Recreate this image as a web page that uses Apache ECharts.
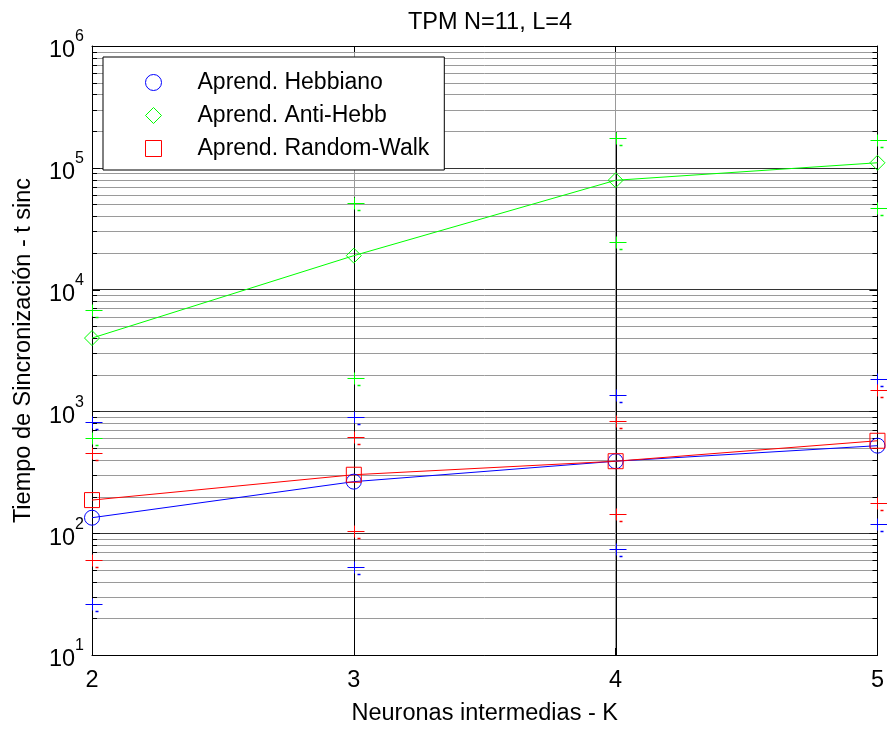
<!DOCTYPE html>
<html><head><meta charset="utf-8">
<script src="https://cdn.jsdelivr.net/npm/echarts@6/dist/echarts.min.js"></script>
<style>html,body{margin:0;padding:0;background:#fff}#c{width:887px;height:731px}</style>
</head><body><div id="c"></div>
<script>
// ---- data ----
const kValues = [2, 3, 4, 5];
const xTickLabels = ['2', '3', '4', '5'];
const yDecades = [10, 100, 1000, 10000, 100000, 1000000];
const minorMultipliers = [2, 3, 4, 5, 6, 7, 8, 9];
const seriesNames = ['Aprend. Hebbiano', 'Aprend. Anti-Hebb', 'Aprend. Random-Walk'];
const hebbMean = [134, 265, 390, 523];
const hebbLow  = [26, 53, 74, 120];
const hebbHigh = [816, 895, 1372, 1845];
const antiMean = [4000, 19000, 79000, 110000];
const antiLow  = [604, 1870, 24800, 47000];
const antiHigh = [6750, 51500, 175000, 169000];
const rwMean = [187, 302, 390, 574];
const rwLow  = [60, 105, 145, 178];
const rwHigh = [457, 620, 840, 1486];
const titleText = 'TPM N=11, L=4';
const xName = 'Neuronas intermedias - K';
const yName = 'Tiempo de Sincronización - t sinc';

// ---- styling ----
const FONT = '"Liberation Sans", Arial, Helvetica, sans-serif';
const FS = 23.5;
const colors = ['#0000ff', '#00ff00', '#ff0000'];
const symbols = ['circle', 'diamond', 'rect'];

const means = [hebbMean, antiMean, rwMean];
const lows = [hebbLow, antiLow, rwLow];
const highs = [hebbHigh, antiHigh, rwHigh];

// grid line / tick values
const tickData = [];
yDecades.forEach((d, i) => {
  tickData.push([kValues[0], d, 1]);
  if (i < yDecades.length - 1) minorMultipliers.forEach(m => tickData.push([kValues[0], d * m, 0]));
});

const errData = [];
for (let s = 0; s < 3; s++) {
  kValues.forEach((k, i) => errData.push([k, lows[s][i], highs[s][i], s]));
}
const stemData = kValues.map((k, i) => [k, Math.max(hebbHigh[i], antiHigh[i], rwHigh[i])]);

const chart = echarts.init(document.getElementById('c'), null, {renderer: 'canvas'});

const lineSeries = [0, 1, 2].map(s => ({
  type: 'line',
  name: seriesNames[s],
  data: kValues.map((k, i) => [k, means[s][i]]),
  symbol: symbols[s],
  symbolSize: 15,
  showAllSymbol: true,
  lineStyle: {color: colors[s], width: 1},
  itemStyle: {color: 'rgba(0,0,0,0)', borderColor: colors[s], borderWidth: 1},
  emphasis: {disabled: true},
  z: 6,
  animation: false
}));

const option = {
  backgroundColor: '#fff',
  animation: false,
  title: {
    text: titleText, left: 485, textAlign: 'center', top: 6,
    textStyle: {fontFamily: FONT, fontSize: FS, fontWeight: 'normal', color: '#000'}
  },
  grid: {left: 92, right: 8, top: 46, bottom: 64, containLabel: false},
  legend: {
    orient: 'vertical', left: 103, top: 57,
    itemWidth: 16, itemHeight: 16, itemGap: 10,
    padding: [14, 15, 10, 42],
    borderColor: '#000', borderWidth: 1, backgroundColor: '#fff',
    selectedMode: false,
    textStyle: {fontFamily: FONT, fontSize: 23, color: '#000', padding: [0, 0, 0, 31]},
    data: [0, 1, 2].map(s => ({
      name: seriesNames[s], icon: symbols[s],
      itemStyle: {color: 'rgba(0,0,0,0)', borderColor: colors[s], borderWidth: 1}
    }))
  },
  xAxis: [{
    type: 'value', min: 2, max: 5, interval: 1, position: 'bottom',
    axisLine: {show: true, lineStyle: {color: '#000', width: 1}},
    axisTick: {show: true, inside: true, length: 7, lineStyle: {color: '#000'}},
    axisLabel: {fontFamily: FONT, fontSize: FS, color: '#000', margin: 14,
      formatter: v => xTickLabels[kValues.indexOf(v)] || ''},
    splitLine: {show: true, lineStyle: {color: '#9a9a9a', width: 1}},
    name: xName, nameLocation: 'middle', nameGap: 47,
    nameTextStyle: {fontFamily: FONT, fontSize: FS, color: '#000'}
  }, {
    type: 'value', min: 2, max: 5, interval: 1, position: 'top',
    axisLine: {show: true, lineStyle: {color: '#000', width: 1}},
    axisTick: {show: true, inside: true, length: 7, lineStyle: {color: '#000'}},
    axisLabel: {show: false}, splitLine: {show: false}
  }],
  yAxis: [{
    type: 'log', logBase: 10, min: 10, max: 1000000, position: 'left',
    axisLine: {show: true, lineStyle: {color: '#000', width: 1}},
    axisTick: {show: false},
    axisLabel: {
      margin: 8,
      formatter: v => '{b|10}{s|' + Math.round(Math.log10(v)) + '}',
      rich: {
        b: {fontFamily: FONT, fontSize: FS, color: '#000', verticalAlign: 'bottom', lineHeight: 34},
        s: {fontFamily: FONT, fontSize: 16, color: '#000', verticalAlign: 'top', lineHeight: 34}
      }
    },
    splitLine: {show: true, lineStyle: {color: '#333', width: 1}},
    name: yName, nameLocation: 'middle', nameGap: 56, nameRotate: 90,
    nameTextStyle: {fontFamily: FONT, fontSize: FS, color: '#000'}
  }, {
    type: 'log', logBase: 10, min: 10, max: 1000000, position: 'right',
    axisLine: {show: true, lineStyle: {color: '#000', width: 1}},
    axisTick: {show: false}, axisLabel: {show: false}, splitLine: {show: false}
  }],
  series: [
    {
      type: 'custom', name: 'ygrid', silent: true, z: 1,
      data: tickData, encode: {x: 0, y: 1},
      renderItem: (params, api) => {
        const cs = params.coordSys;
        const y = Math.round(api.coord([api.value(0), api.value(1)])[1]) + 0.5;
        const major = api.value(2) === 1;
        const len = major ? 8 : 5;
        const children = [];
        if (!major) children.push({type: 'line', shape: {x1: cs.x, y1: y, x2: cs.x + cs.width, y2: y},
          style: {stroke: '#9a9a9a', lineWidth: 1}});
        children.push({type: 'line', shape: {x1: cs.x, y1: y, x2: cs.x + len, y2: y}, style: {stroke: '#000', lineWidth: 1}});
        children.push({type: 'line', shape: {x1: cs.x + cs.width - len, y1: y, x2: cs.x + cs.width, y2: y}, style: {stroke: '#000', lineWidth: 1}});
        return {type: 'group', children};
      }
    },
    {
      type: 'custom', name: 'stems', silent: true, z: 3,
      data: stemData, encode: {x: 0, y: 1},
      renderItem: (params, api) => {
        const cs = params.coordSys;
        const p = api.coord([api.value(0), api.value(1)]);
        const x = Math.round(p[0]) + 0.5;
        return {type: 'line', shape: {x1: x, y1: p[1] - 6, x2: x, y2: cs.y + cs.height},
          style: {stroke: '#000', lineWidth: 1}};
      }
    },
    {
      type: 'custom', name: 'errorbars', silent: true, z: 4,
      data: errData, encode: {x: 0, y: [1, 2]},
      renderItem: (params, api) => {
        const c = colors[api.value(3)];
        const children = [];
        [api.value(1), api.value(2)].forEach(v => {
          const p = api.coord([api.value(0), v]);
          const x = Math.round(p[0]) + 0.5, y = Math.round(p[1]) + 0.5;
          children.push({type: 'line', shape: {x1: x - 7, y1: y, x2: x + 10, y2: y}, style: {stroke: c, lineWidth: 1}});
          children.push({type: 'line', shape: {x1: x, y1: y - 6, x2: x, y2: y + 6}, style: {stroke: c, lineWidth: 1}});
          children.push({type: 'line', shape: {x1: x + 3, y1: y + 7, x2: x + 6, y2: y + 7}, style: {stroke: c, lineWidth: 1.5}});
        });
        return {type: 'group', children};
      }
    },
    ...lineSeries
  ]
};
chart.setOption(option);
</script>
</body></html>
